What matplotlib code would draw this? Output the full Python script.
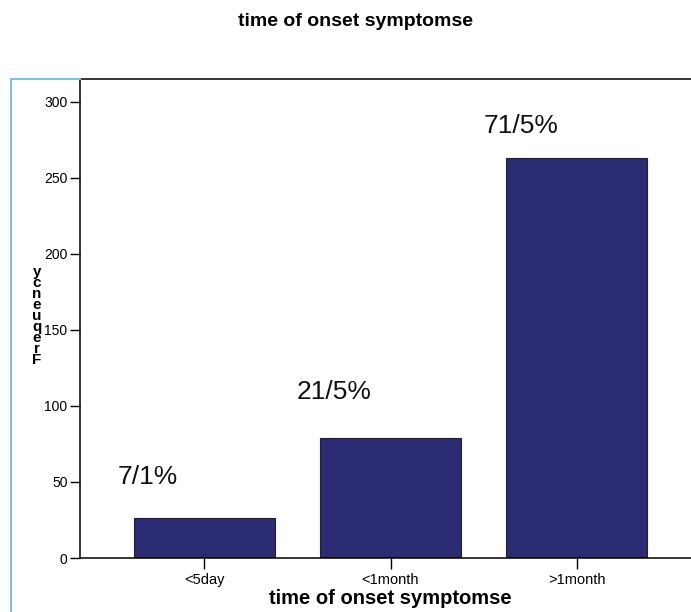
import numpy as np
import matplotlib.pyplot as plt
from matplotlib.lines import Line2D

plt.rcParams['font.family'] = ['Liberation Sans', 'DejaVu Sans']

categories = ["<5day", "<1month", ">1month"]
counts = [26, 79, 263]
pct_labels = ["7/1%", "21/5%", "71/5%"]
ylabel_letters = list("ycneuqerF")

bar_color = "#2a2b72"
label_y = [53, 109, 284]      # label heights, data units

W, H = 691, 612
fig = plt.figure(figsize=(W / 100, H / 100), dpi=100)
ax = fig.add_axes([80 / W, (H - 558) / H, (701 - 80) / W, (558 - 79) / H])

x = np.arange(len(categories))
ax.bar(x, counts, width=0.756, color=bar_color, edgecolor="#222222", linewidth=0.8)

for i, (lab, yy) in enumerate(zip(pct_labels, label_y)):
    ax.text(x[i] - 0.3, yy, lab, ha="center", va="center", fontsize=19, color="#111111")

ax.set_xlim(-0.665, 2.665)
ax.set_ylim(0, 315)
ax.set_yticks([0, 50, 100, 150, 200, 250, 300])
ax.set_xticks(x)
ax.set_xticklabels(categories)
ax.tick_params(axis="y", direction="out", length=7, width=1, labelsize=10, pad=2)
ax.tick_params(axis="x", direction="out", length=8, width=1, labelsize=10.5, pad=3)
ax.spines["right"].set_visible(False)
for s in ["left", "bottom", "top"]:
    ax.spines[s].set_linewidth(1.1)
    ax.spines[s].set_color("black")

ax.set_xlabel("time of onset symptomse", fontsize=14.5, fontweight="bold", labelpad=1)

fig.text(355 / W, 1 - 22 / H, "time of onset symptomse", ha="center", va="center",
         fontsize=14, fontweight="bold")

# stacked y label letters
top, bottom = 272, 360
ys = np.linspace(top, bottom, len(ylabel_letters))
for ch, yp in zip(ylabel_letters, ys):
    fig.text(37 / W, 1 - yp / H, ch, ha="center", va="center", fontsize=11, fontweight="bold")

# outer frame
fig.add_artist(Line2D([11 / W, 11 / W, 80 / W], [0, 1 - 79 / H, 1 - 79 / H],
                      color="#86c0d6", linewidth=1.5, transform=fig.transFigure))

fig.savefig("out.png", dpi=100)
